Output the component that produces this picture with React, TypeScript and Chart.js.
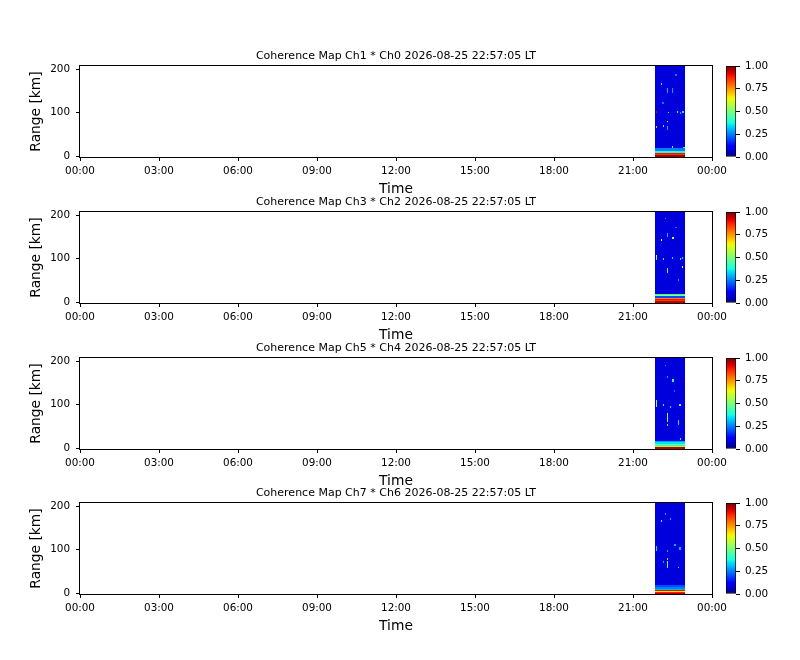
import React, { useEffect, useRef } from "react";
import { Chart, registerables } from "chart.js";

Chart.register(...registerables);

// ---------------- data ----------------
const panelTitles = [
  "Coherence Map Ch1 * Ch0 2026-08-25 22:57:05 LT",
  "Coherence Map Ch3 * Ch2 2026-08-25 22:57:05 LT",
  "Coherence Map Ch5 * Ch4 2026-08-25 22:57:05 LT",
  "Coherence Map Ch7 * Ch6 2026-08-25 22:57:05 LT",
];
const timeTickHours = [0, 3, 6, 9, 12, 15, 18, 21, 24];
const rangeTicks = [0, 100, 200];
const colorbarTicks = [0, 0.25, 0.5, 0.75, 1];
const timeMin = 0;
const timeMax = 24;
const rangeMin = -1.5;
const rangeMax = 207;
const colorMin = 0;
const colorMax = 1;

// recorded block (hours) and background coherence of the noise body
const blockStart = 21.82;
const blockEnd = 22.96;
const bodyValue = 0.08;
const timeBin = 0.06;

// low-range rows: [rangeStart km, rangeEnd km, coherence]
const bottomRows1 = [[-1.5, 2.3, 0.97], [2.3, 5.5, 0.85], [5.5, 8.5, 0.9], [8.5, 11.7, 0.4], [11.7, 19.5, 0.25]];
const bottomRows2 = [[-1.5, 2, 0.95], [2, 5, 0.85], [5, 8, 0.9], [8, 11, 0.78], [11, 14, 0.2], [14, 17, 0.55], [17, 20, 0.4]];
const bottomRows3 = [[-1.5, 2.5, 0.95], [2.5, 5, 0.55], [5, 8, 0.4], [8, 11, 0.5], [11, 14, 0.35], [14, 17, 0.28]];
const bottomRows4 = [[-1.5, 1.5, 0.95], [1.5, 3.5, 0.88], [3.5, 5, 0.65], [5, 7, 0.9], [7, 10, 0.3], [10, 15, 0.25], [15, 20, 0.2]];

// isolated bright cells: [time h, rangeStart km, rangeEnd km, coherence]
const speckles1 = [
  [22.05, 164, 168, 0.4], [22.28, 146, 157, 0.3], [22.47, 146, 157, 0.28], [22.66, 100, 104, 0.45],
  [21.87, 100, 103, 0.92], [21.87, 66, 69, 0.72], [22.28, 78, 82, 0.55], [22.28, 60, 70, 0.3],
  [22.13, 68, 72, 0.4], [22.32, 99, 102, 0.4], [22.78, 98, 102, 0.3], [22.86, 100, 104, 0.35],
  [22.47, 20, 23, 0.45], [22.9, 19, 22, 0.4], [22.6, 185, 188, 0.25], [22.1, 120, 124, 0.25],
];
const speckles2 = [
  [22.21, 190, 194, 0.3], [22.28, 150, 159, 0.3], [22.05, 141, 145, 0.65], [22.48, 145, 149, 0.6],
  [21.86, 97, 104, 0.45], [21.86, 104, 108, 0.65], [22.13, 97, 101, 0.4], [22.28, 67, 79, 0.45],
  [22.78, 97, 101, 0.4], [22.85, 100, 104, 0.35], [22.85, 79, 83, 0.65], [22.7, 49, 53, 0.3],
  [22.47, 100, 103, 0.35], [22.6, 170, 173, 0.25],
];
const speckles3 = [
  [22.2, 188, 192, 0.3], [22.28, 161, 165, 0.3], [22.48, 153, 158, 0.4], [21.86, 94, 110, 0.5],
  [22.13, 98, 102, 0.4], [22.28, 60, 80, 0.5], [22.28, 51, 55, 0.7], [22.75, 98, 102, 0.45],
  [22.7, 53, 64, 0.35], [22.4, 92, 96, 0.35], [22.78, 19, 23, 0.4], [22.55, 130, 133, 0.25],
];
const speckles4 = [
  [22.2, 180, 184, 0.3], [22.05, 164, 168, 0.4], [21.86, 97, 109, 0.35], [22.28, 76, 80, 0.7],
  [22.28, 58, 74, 0.45], [22.13, 69, 73, 0.3], [22.75, 100, 107, 0.3], [22.7, 57, 61, 0.4],
  [22.57, 109, 113, 0.3], [22.28, 95, 99, 0.3], [22.4, 168, 172, 0.3],
];

const panelBottomRows = [bottomRows1, bottomRows2, bottomRows3, bottomRows4];
const panelSpeckles = [speckles1, speckles2, speckles3, speckles4];

// ---------------- style ----------------
const FONT = "DejaVu Sans";
const CANVAS_H = 154;
const X_AXIS_H = 41;
const panelTops = [44, 190, 336, 481];

function interp(stops: number[][], v: number) {
  if (v <= stops[0][0]) return stops[0][1];
  for (let i = 1; i < stops.length; i++) {
    if (v <= stops[i][0]) {
      const [x0, y0] = stops[i - 1];
      const [x1, y1] = stops[i];
      return y0 + ((v - x0) / (x1 - x0)) * (y1 - y0);
    }
  }
  return stops[stops.length - 1][1];
}
const jetR = [[0, 0], [0.35, 0], [0.66, 1], [0.89, 1], [1, 0.5]];
const jetG = [[0, 0], [0.125, 0], [0.375, 1], [0.64, 1], [0.91, 0], [1, 0]];
const jetB = [[0, 0.5], [0.11, 1], [0.34, 1], [0.65, 0], [1, 0]];
function jet(v: number) {
  const t = Math.max(0, Math.min(1, (v - colorMin) / (colorMax - colorMin)));
  const r = Math.round(interp(jetR, t) * 255);
  const g = Math.round(interp(jetG, t) * 255);
  const b = Math.round(interp(jetB, t) * 255);
  return `rgb(${r},${g},${b})`;
}

function fmtHour(v: number) {
  const h = Math.round(v) % 24;
  return `${h < 10 ? "0" : ""}${h}:00`;
}

const heatmapPlugin = {
  id: "heatmapCells",
  beforeDatasetsDraw(chart: any) {
    const ds = chart.data.datasets[0];
    if (!ds || !ds.cells) return;
    const { ctx, chartArea } = chart;
    const xs = chart.scales.x;
    const ys = chart.scales.y;
    ctx.save();
    ctx.beginPath();
    ctx.rect(chartArea.left, chartArea.top, chartArea.right - chartArea.left, chartArea.bottom - chartArea.top);
    ctx.clip();
    for (const c of ds.cells) {
      const [t0, t1, r0, r1, v] = c;
      const x0 = Math.round(xs.getPixelForValue(t0));
      const x1 = Math.round(xs.getPixelForValue(t1));
      const y0 = Math.round(ys.getPixelForValue(r1));
      const y1 = Math.round(ys.getPixelForValue(r0));
      ctx.fillStyle = jet(v);
      ctx.fillRect(x0, y0, Math.max(1, x1 - x0), Math.max(1, y1 - y0));
    }
    ctx.restore();
  },
};

const framePlugin = {
  id: "axesFrame",
  afterDatasetsDraw(chart: any) {
    const { ctx, chartArea } = chart;
    ctx.save();
    ctx.strokeStyle = "#000";
    ctx.lineWidth = 1;
    const l = Math.round(chartArea.left);
    const t = Math.round(chartArea.top);
    const r = Math.round(chartArea.right);
    const b = Math.round(chartArea.bottom);
    ctx.strokeRect(l - 0.5, t - 0.5, r - l + 1, b - t + 1);
    ctx.restore();
  },
};

function buildCells(i: number) {
  const cells: number[][] = [];
  cells.push([blockStart, blockEnd, rangeMin, rangeMax, bodyValue]);
  for (const [r0, r1, v] of panelBottomRows[i]) cells.push([blockStart, blockEnd, r0, r1, v]);
  for (const [t, r0, r1, v] of panelSpeckles[i]) cells.push([t, t + timeBin, r0, r1, v]);
  return cells;
}

function Panel({ index }: { index: number }) {
  const mainRef = useRef<HTMLCanvasElement>(null);
  const cbRef = useRef<HTMLCanvasElement>(null);

  useEffect(() => {
    const tickFont = { family: FONT, size: 10.4 };
    const main = new Chart(mainRef.current as HTMLCanvasElement, {
      type: "scatter",
      data: {
        datasets: [
          {
            data: [],
            cells: buildCells(index),
          } as any,
        ],
      },
      options: {
        animation: false,
        responsive: false,
        devicePixelRatio: 1,
        layout: { padding: { top: 5.1, right: 88, bottom: 0, left: 0 } },
        plugins: {
          legend: { display: false },
          tooltip: { enabled: false },
          title: {
            display: true,
            text: panelTitles[index],
            fullSize: false,
            color: "#000",
            font: { family: FONT, size: 11, weight: "normal", lineHeight: 1.2 },
            padding: { top: 0, bottom: 3.7 },
          },
        },
        scales: {
          x: {
            type: "linear",
            min: timeMin,
            max: timeMax,
            afterBuildTicks: (s: any) => {
              s.ticks = timeTickHours.map((v) => ({ value: v }));
            },
            afterFit: (s: any) => {
              s.height = X_AXIS_H;
            },
            ticks: {
              callback: (v: any) => fmtHour(Number(v)),
              color: "#000",
              font: tickFont,
              padding: 4,
              maxRotation: 0,
              autoSkip: false,
            },
            grid: { drawOnChartArea: false, drawTicks: true, tickLength: 4, tickColor: "#000", tickWidth: 1 },
            border: { display: false },
            title: {
              display: true,
              text: "Time",
              color: "#000",
              font: { family: FONT, size: 13.8, lineHeight: 1.2 },
              padding: { top: 0, bottom: 0 },
            },
          },
          y: {
            type: "linear",
            min: rangeMin,
            max: rangeMax,
            afterBuildTicks: (s: any) => {
              s.ticks = rangeTicks.map((v) => ({ value: v }));
            },
            afterFit: (s: any) => {
              s.width = 80;
            },
            ticks: { color: "#000", font: tickFont, padding: 6 },
            grid: { drawOnChartArea: false, drawTicks: true, tickLength: 4, tickColor: "#000", tickWidth: 1 },
            border: { display: false },
            title: {
              display: true,
              text: "Range [km]",
              color: "#000",
              font: { family: FONT, size: 13.8, lineHeight: 1.2 },
              padding: { top: 28, bottom: 0 },
            },
          },
        },
      } as any,
      plugins: [heatmapPlugin, framePlugin],
    });

    const cb = new Chart(cbRef.current as HTMLCanvasElement, {
      type: "bar",
      data: {
        labels: [""],
        datasets: [
          {
            data: [[colorMin, colorMax]] as any,
            backgroundColor: (ctx: any) => {
              const area = ctx.chart.chartArea;
              if (!area) return "#00f";
              const g = ctx.chart.ctx.createLinearGradient(0, area.bottom, 0, area.top);
              for (let k = 0; k <= 40; k++) {
                const s = k / 40;
                g.addColorStop(s, jet(colorMin + s * (colorMax - colorMin)));
              }
              return g;
            },
            borderColor: "#000",
            borderWidth: 1,
            borderSkipped: false,
            barPercentage: 1,
            categoryPercentage: 1,
          } as any,
        ],
      },
      options: {
        animation: false,
        responsive: false,
        devicePixelRatio: 1,
        layout: { padding: { top: 22, left: 26, right: 0, bottom: X_AXIS_H } },
        plugins: { legend: { display: false }, tooltip: { enabled: false }, title: { display: false } },
        scales: {
          x: { display: false },
          y: {
            position: "right",
            min: colorMin,
            max: colorMax,
            afterBuildTicks: (s: any) => {
              s.ticks = colorbarTicks.map((v) => ({ value: v }));
            },
            afterFit: (s: any) => {
              s.width = 64;
            },
            ticks: {
              callback: (v: any) => Number(v).toFixed(2),
              color: "#000",
              font: tickFont,
              padding: 5,
            },
            grid: { drawOnChartArea: false, drawTicks: true, tickLength: 4, tickColor: "#000", tickWidth: 1 },
            border: { display: false },
          },
        },
      } as any,
    });

    return () => {
      main.destroy();
      cb.destroy();
    };
  }, [index]);

  const top = panelTops[index];
  return (
    <>
      <canvas
        ref={mainRef}
        width={800}
        height={CANVAS_H}
        style={{ position: "absolute", left: 0, top, width: 800, height: CANVAS_H }}
      />
      <canvas
        ref={cbRef}
        width={100}
        height={CANVAS_H}
        style={{ position: "absolute", left: 700, top, width: 100, height: CANVAS_H }}
      />
    </>
  );
}

export default function App() {
  return (
    <div style={{ position: "absolute", left: 0, top: 0, width: 800, height: 660, background: "#fff" }}>
      {[0, 1, 2, 3].map((i) => (
        <Panel key={i} index={i} />
      ))}
    </div>
  );
}
